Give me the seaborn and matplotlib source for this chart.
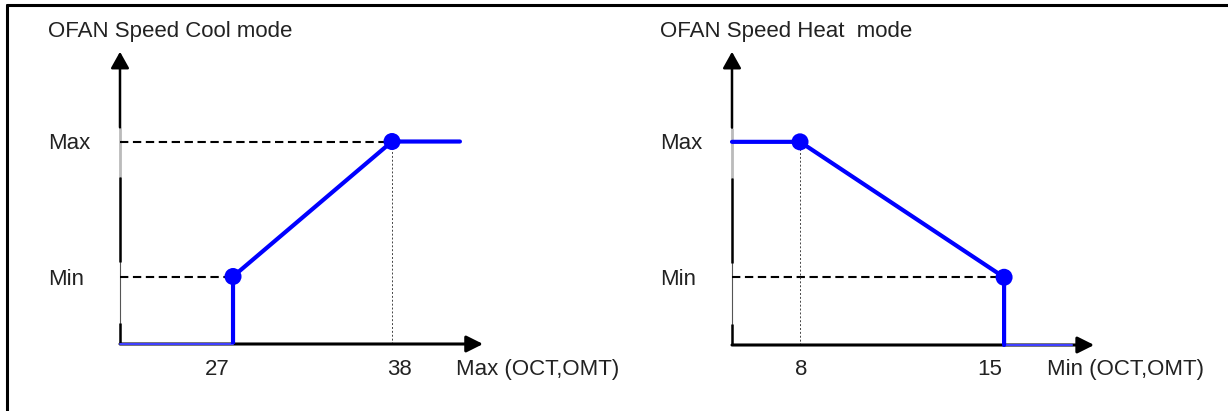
import matplotlib
matplotlib.use("Agg")
import matplotlib.pyplot as plt
import matplotlib.transforms as mtransforms
from matplotlib.lines import Line2D
import pandas as pd
import seaborn as sns

# speed levels (arbitrary units, 0 = fan off)
speed_labels = ["Min", "Max"]
speed_values = [1, 3]

# cool mode: fan ramps from Min at 27 to Max at 38
cool_temps = [27, 38]
cool_speeds = [1, 3]
# heat mode: fan ramps from Max at 8 down to Min at 15
heat_temps = [8, 15]
heat_speeds = [3, 1]

cool_title = "OFAN Speed Cool mode"
heat_title = "OFAN Speed Heat  mode"
cool_xlabel = "Max (OCT,OMT)"
heat_xlabel = "Min (OCT,OMT)"

W, H = 1228, 411
BLUE = "#0000ff"
TXT = "#222222"

sns.set_style("white")
plt.rcParams["font.family"] = ["Liberation Sans", "DejaVu Sans"]


def fx(x):
    return x / W


def fy(y):
    return 1 - y / H


def draw_axes(ax, x0, x_tip, y_tip):
    # x axis with arrow
    ax.annotate("", xy=(x_tip, 0), xytext=(x0, 0),
                arrowprops=dict(arrowstyle="-|>,head_length=0.5,head_width=0.25",
                                lw=2.2, color="black", shrinkA=0, shrinkB=0,
                                mutation_scale=20),
                annotation_clip=False)
    # y axis, drawn in pieces like the original drawing
    ax.annotate("", xy=(x0, y_tip), xytext=(x0, 3.21),
                arrowprops=dict(arrowstyle="-|>,head_length=0.5,head_width=0.28",
                                lw=1.8, color="black", shrinkA=0, shrinkB=0,
                                mutation_scale=20),
                annotation_clip=False)
    ax.vlines(x0, 0, 3.21, color="#555555", lw=0.8, clip_on=False)
    ax.vlines(x0, 2.47, 3.21, color="#bbbbbb", lw=2.0, clip_on=False)
    ax.vlines(x0, 1.21, 2.47, color="black", lw=1.8, clip_on=False)
    ax.vlines(x0, 0, 0.31, color="black", lw=1.8, clip_on=False)
    ax.set_axis_off()


fig = plt.figure(figsize=(W / 100, H / 100), dpi=100)

# frame around the drawing (left and top only)
fig.add_artist(Line2D([fx(7), fx(7)], [fy(5), 0], color="black", lw=2.2))
fig.add_artist(Line2D([fx(7), 1], [fy(5), fy(5)], color="black", lw=2.2))

dash = (0, (4, 2.2))
dot = (0, (2, 2))

# ---------- cool mode ----------
ax1 = fig.add_axes([fx(120), fy(344), fx(490) - fx(120), fy(45) - fy(344)])
cx0, cx1 = 19.18, 44.78
ax1.set_xlim(cx0, cx1)
ax1.set_ylim(0, 4.43)
draw_axes(ax1, cx0, 44.3, 4.33)

ax1.hlines(speed_values, cx0, cool_temps, color="black", lw=1.5, linestyles=dash,
           clip_on=False)
ax1.vlines(cool_temps[1], 0, cool_speeds[1], color="#444444", lw=0.7, linestyles=dot)

cool_off = pd.DataFrame({"t": [cx0, cool_temps[0]], "s": [0, 0]})
sns.lineplot(data=cool_off, x="t", y="s", ax=ax1, estimator=None, color="#4040ff",
             lw=1.5, zorder=4, clip_on=False)
cool_df = pd.DataFrame({"t": [cool_temps[0]] + cool_temps + [42.7],
                        "s": [0] + cool_speeds + [cool_speeds[-1]]})
sns.lineplot(data=cool_df, x="t", y="s", ax=ax1, sort=False, estimator=None,
             color=BLUE, lw=3, zorder=5)
sns.scatterplot(x=cool_temps, y=cool_speeds, ax=ax1, color=BLUE, s=150,
                edgecolor="none", zorder=6)
ax1.set_axis_off()

# ---------- heat mode ----------
ax2 = fig.add_axes([fx(732), fy(345), fx(1100) - fx(732), fy(45) - fy(345)])
hx0, hx1 = 5.667, 18.29
ax2.set_xlim(hx0, hx1)
ax2.set_ylim(0, 4.43)
draw_axes(ax2, hx0, 18.09, 4.33)

ax2.hlines(speed_values[0], hx0, heat_temps[1], color="black", lw=1.5, linestyles=dash,
           clip_on=False)
ax2.vlines(heat_temps[0], 0, heat_speeds[0], color="#444444", lw=0.7, linestyles=dot)

heat_df = pd.DataFrame({"t": [hx0] + heat_temps + [heat_temps[1]],
                        "s": [heat_speeds[0]] + heat_speeds + [0]})
sns.lineplot(data=heat_df, x="t", y="s", ax=ax2, sort=False, estimator=None,
             color=BLUE, lw=3, zorder=5, clip_on=False)
heat_off = pd.DataFrame({"t": [heat_temps[1], 17.33], "s": [0, 0]})
sns.lineplot(data=heat_off, x="t", y="s", ax=ax2, estimator=None, color="#4040ff",
             lw=1.5, zorder=4, clip_on=False)
sns.scatterplot(x=heat_temps, y=heat_speeds, ax=ax2, color=BLUE, s=150,
                edgecolor="none", zorder=6)
ax2.set_axis_off()

# ---------- texts ----------
fs = 16
fig.text(fx(48), fy(37), cool_title, fontsize=fs, color=TXT, va="baseline")
fig.text(fx(660), fy(37), heat_title, fontsize=fs, color=TXT, va="baseline")
for left in (48, 660):
    fig.text(fx(left), fy(149), speed_labels[1], fontsize=fs, color=TXT, va="baseline")
    fig.text(fx(left), fy(285), speed_labels[0], fontsize=fs, color=TXT, va="baseline")

fig.text(fx(456), fy(375), cool_xlabel, fontsize=fs, color=TXT, va="baseline")
fig.text(fx(1047), fy(375), heat_xlabel, fontsize=fs, color=TXT, va="baseline")

for ax, temps, shifts in ((ax1, cool_temps, (-16, 7)), (ax2, heat_temps, (1, -14))):
    base = mtransforms.blended_transform_factory(ax.transData, fig.transFigure)
    for t, dx in zip(temps, shifts):
        tr = base + mtransforms.ScaledTranslation(dx / 100, 0, fig.dpi_scale_trans)
        ax.text(t, fy(375), str(t), transform=tr, fontsize=fs, color=TXT,
                ha="center", va="baseline")

fig.savefig("out.png", dpi=100)
